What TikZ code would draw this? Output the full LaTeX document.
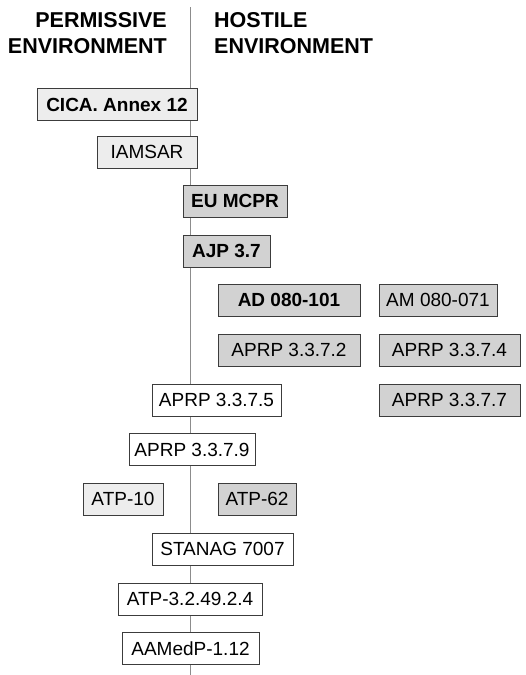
\documentclass[tikz,border=0pt]{standalone}
\usepackage{fontspec}
\setmainfont{Liberation Sans}
\definecolor{boxline}{HTML}{3C3C3C}
\definecolor{axisline}{HTML}{8C8C8C}
\definecolor{lightfill}{HTML}{EDEDED}
\definecolor{darkfill}{HTML}{D2D2D2}

\begin{document}
\begin{tikzpicture}[x=1pt,y=-1pt]
\tikzstyle{doc}=[
	rectangle,
	draw=boxline,
	line width=1pt,
	minimum height=32pt,
	inner sep=2pt,
	font=\fontsize{19}{22}\selectfont ]
\tikzstyle{light}=[doc, fill=lightfill]
\tikzstyle{dark}=[doc, fill=darkfill]
\tikzstyle{plain}=[doc, fill=white]
\tikzstyle{heading}=[inner sep=0pt, font=\fontsize{21.5}{26}\selectfont\bfseries]
\useasboundingbox (0,0) rectangle (526,675);
\coordinate (top) at (190,7);
\coordinate (bottom) at (190,675);
\draw[axisline, line width=1pt] (top) -- (bottom);
\node[heading, anchor=east, align=right] (permissive) at (167,33) {PERMISSIVE\\ENVIRONMENT};
\node[heading, anchor=west, align=left] (hostile) at (214,33) {HOSTILE\\ENVIRONMENT};
\node[light, minimum width=160pt, font=\fontsize{19}{22}\selectfont\bfseries] (cica) at (117,104.5) {CICA. Annex 12};
\node[light, minimum width=100pt] (iamsar) at (147,152) {IAMSAR};
\node[dark, minimum width=104pt, font=\fontsize{19}{22}\selectfont\bfseries] (eumcpr) at (235,201) {EU MCPR};
\node[dark, minimum width=87pt, font=\fontsize{19}{22}\selectfont\bfseries] (ajp) at (226.5,251) {AJP 3.7};
\node[dark, minimum width=142pt, font=\fontsize{19}{22}\selectfont\bfseries] (ad) at (289,300) {AD 080-101};
\node[dark, minimum width=118pt] (am) at (438,300) {AM 080-071};
\node[dark, minimum width=142pt] (aprp2) at (289,350) {APRP 3.3.7.2};
\node[dark, minimum width=141pt] (aprp4) at (449.5,350) {APRP 3.3.7.4};
\node[plain, minimum width=129pt] (aprp5) at (216.5,400) {APRP 3.3.7.5};
\node[dark, minimum width=141pt] (aprp7) at (449.5,400) {APRP 3.3.7.7};
\node[plain, minimum width=126pt] (aprp9) at (192,449.5) {APRP 3.3.7.9};
\node[light, minimum width=80pt] (atp10) at (123,499) {ATP-10};
\node[dark, minimum width=78pt] (atp62) at (257,499) {ATP-62};
\node[plain, minimum width=141pt] (stanag) at (222.5,549) {STANAG 7007};
\node[plain, minimum width=144pt] (atp3) at (190,599) {ATP-3.2.49.2.4};
\node[plain, minimum width=137pt] (aamedp) at (190.5,648.5) {AAMedP-1.12};
\end{tikzpicture}
\end{document}
